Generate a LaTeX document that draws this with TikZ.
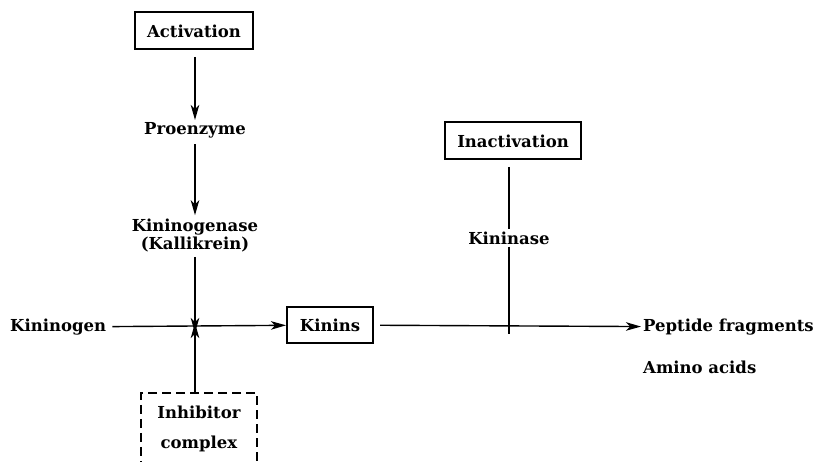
\documentclass[tikz,border=0pt]{standalone}
\usepackage{fontspec}
\setmainfont{DejaVu Serif}
\usetikzlibrary{arrows.meta}
\begin{document}
\begin{tikzpicture}[x=1pt,y=-1pt,
  lbl/.style={font=\bfseries\fontsize{16.5}{18}\selectfont, inner sep=2pt},
  boxed/.style={lbl, draw, line width=2pt, minimum height=37pt, inner sep=0pt},
  arr/.style={line width=1.4pt, -{Stealth[length=15pt,width=8.5pt,inset=4pt]}},
  ln/.style={line width=1.4pt}]
\useasboundingbox (0,0) rectangle (819,462);
\clip (0,0) rectangle (819,462);
\node[boxed, minimum width=118pt] (act) at (194,31) {Activation};
\node[lbl] (pro) at (195,130) {Proenzyme};
\node[lbl, align=center, inner sep=4pt] (kgase) at (195,236) {Kininogenase\\(Kallikrein)};
\coordinate (cross) at (195,327);
\node[lbl, anchor=west] (kgen) at (8,327) {Kininogen};
\node[boxed, minimum width=86pt, minimum height=36pt] (kinins) at (330,325) {Kinins};
\node[draw, dash pattern=on 9pt off 5pt, line width=1.5pt, anchor=north,
      minimum width=116pt, minimum height=120pt] (inh) at (199,392) {};
\node[lbl] (inhA) at (199,412) {Inhibitor};
\node[lbl] (inhB) at (199,444) {complex};
\node[boxed, minimum width=136pt] (inact) at (513,141) {Inactivation};
\node[lbl] (kinase) at (509,238) {Kininase};
\coordinate (kjoin) at (509,327);
\node[lbl, anchor=west] (pept) at (641,327) {Peptide fragments};
\node[lbl, anchor=west] (amino) at (641,367) {Amino acids};
\coordinate (actb) at (195,57);
\coordinate (inactb) at (509,167);
\draw[arr] (actb) -- (pro);
\draw[arr, shorten <=4pt] (pro) -- (kgase);
\draw[arr] (kgase) -- ([yshift=-6pt]cross);
\draw[arr] (inh.north -| cross) -- ([yshift=4pt]cross);
\draw[arr, shorten <=4pt] (kgen) -- (kinins);
\draw[arr, shorten <=6pt] (kinins) -- (pept);
\draw[ln] (inactb) -- (kinase);
\draw[ln] (kinase) -- ([yshift=-7pt]kjoin);
\end{tikzpicture}
\end{document}
